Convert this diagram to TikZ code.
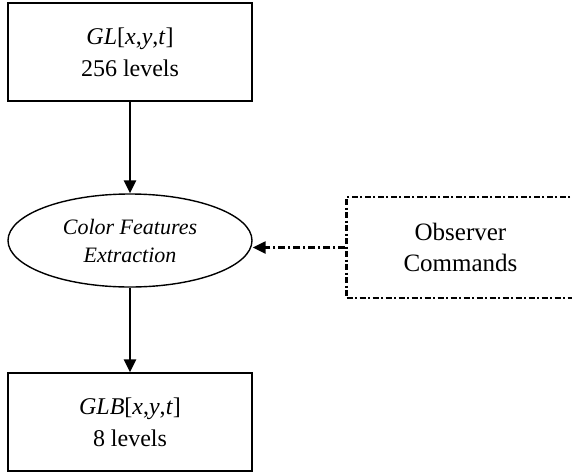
\documentclass[tikz,border=0pt]{standalone}
\usepackage{fontspec}
\setmainfont{Liberation Serif}
\usetikzlibrary{arrows.meta,shapes.geometric}

\tikzset{
  x=1pt, y=1pt,
  stagebox/.style={draw, line width=1.4pt, minimum width=244pt, minimum height=98pt,
    inner sep=0pt, align=center, font=\fontsize{24}{32}\selectfont},
  procell/.style={draw, ellipse, line width=1.4pt, minimum width=244pt, minimum height=93pt,
    inner sep=0pt, align=center, font=\itshape\fontsize{22}{28}\selectfont},
  inputbox/.style={draw, line width=2.4pt, dash pattern=on 6pt off 2.5pt on 2pt off 2.5pt,
    minimum width=228pt, minimum height=101pt, inner sep=0pt, align=center,
    font=\fontsize{25}{31}\selectfont},
  flow/.style={line width=2.8pt, -{Triangle[length=13pt,width=12pt]}},
  cmdflow/.style={line width=2.4pt, dash pattern=on 7pt off 3pt on 2pt off 3pt,
    -{Triangle[length=13pt,width=12pt]}},
}

\begin{document}
\begin{tikzpicture}
  \useasboundingbox (0,0) rectangle (572,-474);

  \node[stagebox] (gl) at (130,-52) {\textit{GL}[\textit{x},\textit{y},\textit{t}]\\256 levels};
  \node[procell] (cfe) at (130,-240.5) {Color Features\\Extraction};
  \node[stagebox] (glb) at (130,-422) {\textit{GLB}[\textit{x},\textit{y},\textit{t}]\\8 levels};
  \node[inputbox] (obs) at (460.5,-247.5) {Observer\\Commands};

  \draw[flow] (gl.south) -- (cfe.north);
  \draw[flow] (cfe.south) -- (glb.north);
  \draw[cmdflow] (obs.west) -- (obs.west -| cfe.east);
\end{tikzpicture}
\end{document}
